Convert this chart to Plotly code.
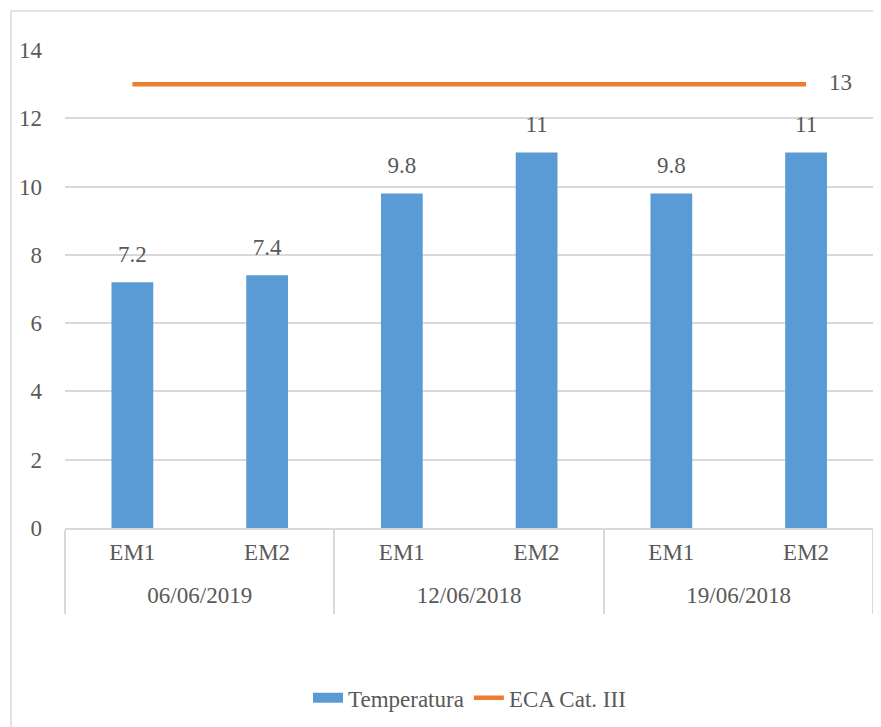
import plotly.graph_objects as go

dates = ["06/06/2019", "06/06/2019", "12/06/2018", "12/06/2018", "19/06/2018", "19/06/2018"]
stations = ["EM1", "EM2", "EM1", "EM2", "EM1", "EM2"]
temperatura = [7.2, 7.4, 9.8, 11, 9.8, 11]
eca_cat_iii = [13, 13, 13, 13, 13, 13]
y_ticks = [0, 2, 4, 6, 8, 10, 12, 14]

FONT = "Times New Roman, Liberation Serif, serif"
GREY = "#595959"
GRID = "#D9D9D9"
BLUE = "#5B9BD5"
ORANGE = "#ED7D31"
FS = 23

# category positions derived from the data
pos = list(range(len(stations)))
groups, centers, bounds = [], [], [-0.5]
for i, d in enumerate(dates):
    if not groups or groups[-1] != d:
        groups.append(d)
        start = i
    if i == len(dates) - 1 or dates[i + 1] != d:
        centers.append((start + i) / 2)
        bounds.append(i + 0.5)
xr = [-0.5, len(stations) - 0.5 + 0.004]

# page has an 8px body margin, so figure is drawn 8px in from the top-left
W, H = 873, 719
ML, MR, MT, MB = 57, 7, 42, 199
pw, ph = W - ML - MR, H - MT - MB

fig = go.Figure()
fig.add_trace(go.Bar(
    x=pos, y=temperatura, name="Temperatura",
    marker=dict(color=BLUE, line=dict(width=0)),
    showlegend=False, legendgroup="t",
))
# value labels above bars (invisible markers give Excel-like spacing)
fig.add_trace(go.Scatter(
    x=pos, y=temperatura, mode="markers+text",
    marker=dict(size=22, color="rgba(0,0,0,0)"),
    text=[f"{v:g}" for v in temperatura], textposition="top center",
    textfont=dict(family=FONT, size=FS, color=GREY),
    cliponaxis=False, showlegend=False, hoverinfo="skip",
))
# legend-only entry giving the wide rectangular swatch
fig.add_trace(go.Scatter(
    x=[None], y=[None], name="Temperatura", mode="lines",
    line=dict(color=BLUE, width=14), legendgroup="t",
))
eca_text = [""] * (len(eca_cat_iii) - 1) + [f"    {eca_cat_iii[-1]:g}"]
fig.add_trace(go.Scatter(
    x=pos, y=eca_cat_iii, name="ECA Cat. III",
    mode="lines+text", line=dict(color=ORANGE, width=4.5),
    text=eca_text, textposition="middle right",
    textfont=dict(family=FONT, size=FS, color=GREY),
    cliponaxis=False,
))
# invisible carriers so the label axes are drawn
for ax in ("x2", "x3"):
    fig.add_trace(go.Scatter(x=pos, y=[None] * len(pos), xaxis=ax, yaxis="y",
                             mode="markers", showlegend=False, hoverinfo="skip"))

# chart border
fig.add_shape(type="rect", xref="paper", yref="paper",
              x0=(3 - ML) / pw, x1=(869 - ML) / pw,
              y0=-(H + 20 - MT - ph) / ph, y1=1 + (MT - 3) / ph,
              line=dict(color=GRID, width=1.5), layer="below")

fig.update_layout(
    width=W, height=H,
    margin=dict(l=ML, r=MR, t=MT, b=MB),
    paper_bgcolor="white", plot_bgcolor="white",
    font=dict(family=FONT, size=FS, color=GREY),
    bargap=0.69,
    showlegend=True,
    legend=dict(orientation="h", x=0.5, xanchor="center", y=-0.31, yanchor="top",
                font=dict(family=FONT, size=FS, color=GREY), traceorder="normal"),
    # main axis: line + group dividers
    xaxis=dict(range=xr, showline=True, linecolor=GRID, linewidth=1.5,
               showgrid=False, zeroline=False, tickmode="array", tickvals=bounds,
               ticks="outside", ticklen=84, tickwidth=1.5, tickcolor=GRID,
               showticklabels=False),
    # station labels
    xaxis2=dict(range=xr, overlaying="x", anchor="y", side="bottom",
                showgrid=False, zeroline=False, showline=False,
                tickmode="array", tickvals=pos, ticktext=stations, ticks="",
                ticklabelstandoff=8, tickfont=dict(family=FONT, size=FS, color=GREY)),
    # date labels
    xaxis3=dict(range=xr, overlaying="x", anchor="y", side="bottom",
                showgrid=False, zeroline=False, showline=False,
                tickmode="array", tickvals=centers, ticktext=groups, ticks="",
                ticklabelstandoff=51, tickfont=dict(family=FONT, size=FS, color=GREY)),
    yaxis=dict(range=[0, 14], tickvals=y_ticks, showgrid=True, gridcolor=GRID, gridwidth=1.5,
               zeroline=False, showline=False, ticklabelstandoff=22,
               tickfont=dict(family=FONT, size=FS, color=GREY)),
)

fig.write_html("out.html")
